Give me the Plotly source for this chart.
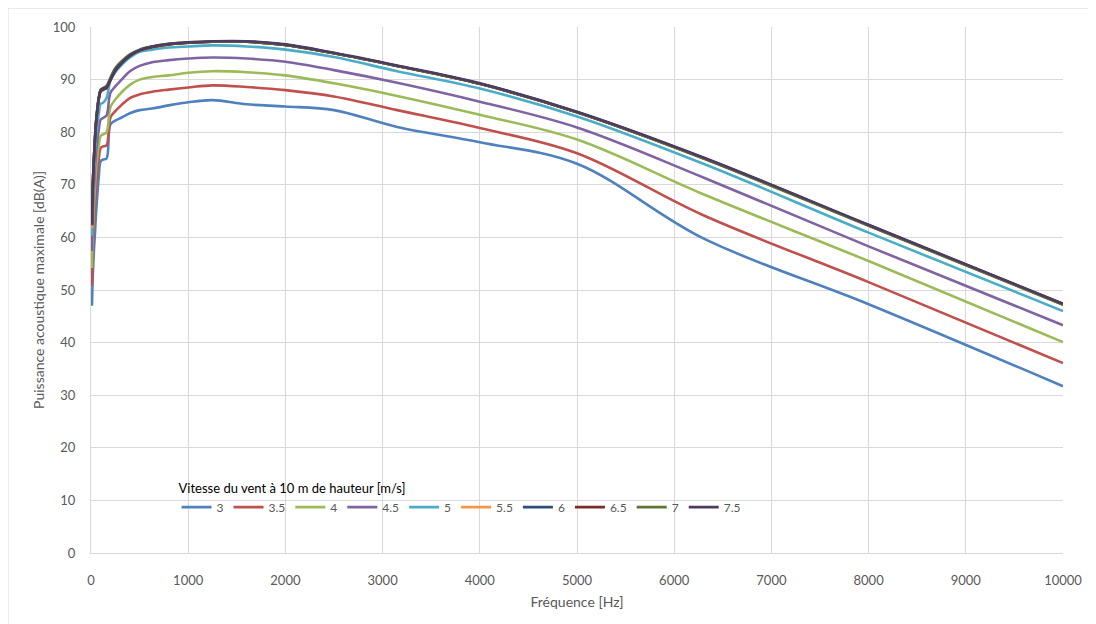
import plotly.graph_objects as go

# Third-octave band centre frequencies [Hz]
freq = [10, 12.5, 16, 20, 25, 31.5, 40, 50, 63, 80, 100, 125, 160, 200, 250, 315,
        400, 500, 630, 800, 1000, 1250, 1600, 2000, 2500, 3150, 4000, 5000, 6300, 8000, 10000]

v3_0 = [47.0, 49.0, 51.5, 53.5, 55.5, 58.0, 60.5, 64.0, 67.5, 71.5, 74.5, 74.8, 75.0, 81.5, 82.2, 82.8,
        83.6, 84.2, 84.5, 85.1, 85.7, 86.1, 85.3, 84.9, 84.2, 81.0, 78.1, 74.0, 59.8, 47.3, 31.7]
v3_5 = [50.8, 53.0, 55.5, 58.0, 60.5, 63.0, 66.0, 69.0, 72.0, 75.0, 77.0, 77.3, 77.5, 82.8, 84.0, 85.2,
        86.5, 87.2, 87.7, 88.1, 88.5, 88.9, 88.6, 88.0, 86.8, 84.2, 80.8, 76.0, 64.2, 51.5, 36.1]
v4_0 = [54.2, 56.5, 59.0, 61.5, 64.0, 66.5, 69.5, 72.5, 75.0, 77.5, 79.3, 79.6, 80.0, 84.8, 86.2, 87.6,
        89.0, 90.0, 90.5, 90.8, 91.3, 91.6, 91.4, 90.8, 89.3, 86.9, 83.3, 78.6, 68.2, 55.5, 40.1]
v4_5 = [57.4, 60.0, 62.5, 65.0, 67.5, 70.0, 73.0, 75.5, 78.0, 80.5, 82.4, 82.7, 83.2, 87.5, 88.7, 90.0,
        91.6, 92.6, 93.3, 93.7, 94.0, 94.2, 94.0, 93.4, 91.8, 89.4, 85.8, 80.9, 71.4, 58.3, 43.3]
v5_0 = [60.3, 63.0, 65.5, 68.0, 70.5, 73.0, 76.0, 78.5, 81.0, 83.5, 85.4, 85.6, 86.5, 89.8, 91.4, 92.8,
        94.2, 95.3, 95.7, 96.1, 96.3, 96.5, 96.3, 95.7, 94.3, 91.6, 88.3, 83.0, 74.0, 60.9, 46.0]
v5_5 = [61.8, 64.8, 67.4, 70.0, 72.5, 75.0, 78.0, 81.0, 83.6, 86.1, 87.7, 88.0, 88.4, 90.0, 91.8, 93.2,
        94.6, 95.6, 96.2, 96.7, 97.0, 97.2, 97.2, 96.6, 95.0, 92.6, 89.2, 83.8, 75.1, 62.3, 47.3]
v6_0 = [62.3, 65.2, 67.8, 70.3, 72.8, 75.3, 78.3, 81.3, 83.8, 86.3, 87.8, 88.1, 88.4, 89.9, 91.7, 93.1,
        94.5, 95.5, 96.2, 96.7, 97.0, 97.2, 97.2, 96.6, 95.0, 92.6, 89.2, 83.8, 75.1, 62.3, 47.3]
v6_5 = [62.4, 65.3, 67.9, 70.4, 72.9, 75.4, 78.4, 81.4, 83.9, 86.4, 87.9, 88.2, 88.5, 90.0, 91.8, 93.2,
        94.6, 95.6, 96.2, 96.7, 97.0, 97.2, 97.2, 96.6, 95.0, 92.6, 89.2, 83.8, 75.1, 62.3, 47.3]
v7_0 = [62.5, 65.4, 68.0, 70.6, 73.1, 75.6, 78.6, 81.6, 84.1, 86.6, 88.1, 88.4, 88.8, 90.4, 92.2, 93.5,
        94.8, 95.7, 96.3, 96.8, 97.1, 97.2, 97.2, 96.6, 95.0, 92.6, 89.2, 83.8, 75.0, 62.2, 47.2]
v7_5 = [62.6, 65.5, 68.0, 70.5, 73.0, 75.5, 78.5, 81.5, 84.0, 86.5, 88.0, 88.3, 88.6, 90.0, 91.8, 93.2,
        94.6, 95.6, 96.3, 96.8, 97.1, 97.3, 97.3, 96.7, 95.1, 92.7, 89.3, 83.9, 75.2, 62.4, 47.4]

series_names = ["3", "3.5", "4", "4.5", "5", "5.5", "6", "6.5", "7", "7.5"]
series_values = [v3_0, v3_5, v4_0, v4_5, v5_0, v5_5, v6_0, v6_5, v7_0, v7_5]
colors = ["#4F81BD", "#C0504D", "#9BBB59", "#8064A2", "#4BACC6",
          "#F79646", "#2C4D75", "#772C2A", "#5F7530", "#4D3B62"]

x_ticks = list(range(0, 10001, 1000))
y_ticks = list(range(0, 101, 10))

FONT = "Lato, 'Open Sans', sans-serif"
GRID = "#D9D9D9"
TXT = "#595959"

fig = go.Figure()
for name, vals, col in zip(series_names, series_values, colors):
    fig.add_trace(go.Scatter(
        x=freq, y=vals, name=name, mode="lines",
        line=dict(color=col, width=2.6, shape="spline", smoothing=1.0),
    ))

fig.update_layout(
    width=1088, height=616,
    margin=dict(l=83, r=33, t=19, b=71),
    paper_bgcolor="white", plot_bgcolor="white",
    font=dict(family=FONT, size=13, color=TXT),
    showlegend=True,
    legend=dict(
        orientation="h",
        x=0.088, y=0.147, xanchor="left", yanchor="top",
        bgcolor="rgba(0,0,0,0)",
        font=dict(family=FONT, size=12, color=TXT),
        title=dict(text="Vitesse du vent à 10 m de hauteur [m/s]", side="top",
                   font=dict(family=FONT, size=13, color="#000000")),
        itemwidth=30,
        tracegroupgap=0,
    ),
    xaxis=dict(
        range=[0, 10000], tickvals=x_ticks, ticktext=[str(v) for v in x_ticks],
        showgrid=True, gridcolor=GRID, gridwidth=1,
        showline=True, linecolor=GRID, linewidth=1,
        zeroline=False, ticks="", ticklabelstandoff=15,
        tickfont=dict(family=FONT, size=13, color=TXT),
        title=dict(text="Fréquence [Hz]", standoff=10,
                   font=dict(family=FONT, size=14, color=TXT)),
    ),
    yaxis=dict(
        range=[0, 100], tickvals=y_ticks, ticktext=[str(v) for v in y_ticks],
        showgrid=True, gridcolor=GRID, gridwidth=1,
        showline=True, linecolor=GRID, linewidth=1,
        zeroline=False, ticks="", ticklabelstandoff=12,
        tickfont=dict(family=FONT, size=13, color=TXT),
        title=dict(text="Puissance acoustique maximale [dB(A)]", standoff=4,
                   font=dict(family=FONT, size=14, color=TXT)),
    ),
)

# Light chart-area frame (left and top edges; the others fall outside the window)
fig.add_shape(type="line", xref="paper", yref="paper",
              x0=-0.0854, x1=-0.0854, y0=-0.3, y1=1.036,
              line=dict(color=GRID, width=1), layer="below")
fig.add_shape(type="line", xref="paper", yref="paper",
              x0=-0.0854, x1=1.06, y0=1.036, y1=1.036,
              line=dict(color=GRID, width=1), layer="below")

fig.write_html("out.html")
